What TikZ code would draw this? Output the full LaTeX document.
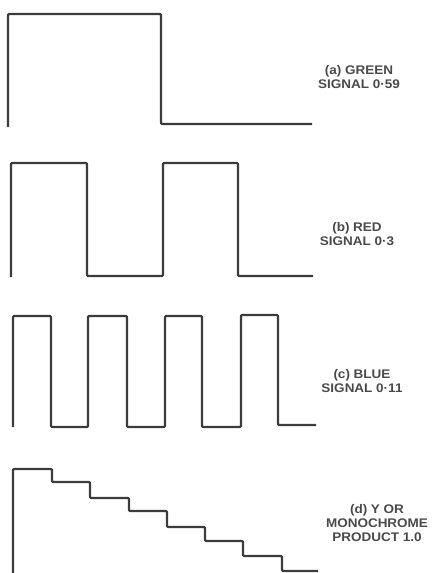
\documentclass[tikz,border=0pt]{standalone}
\usepackage{fontspec}
\setmainfont{Liberation Sans}
\definecolor{ink}{HTML}{3C3C3C}
\definecolor{txt}{HTML}{4A4A4A}
\begin{document}
\begin{tikzpicture}[x=1pt,y=-1pt,
  wave/.style={draw=ink,line width=2.2pt,rounded corners=1pt,line join=round},
  lbl/.style={text=txt,font=\bfseries\fontsize{12.5}{14}\selectfont,align=center,inner sep=0pt,xscale=1.08,transform shape}]
\useasboundingbox (0,0) rectangle (432,573);
% (a) green
\draw[wave] (8,127) -- (8,14) -- (161,14) -- (161,124) -- (312,124);
\node[lbl] (la) at (359,77) {(a) GREEN\\SIGNAL 0·59};
% (b) red
\draw[wave] (11,277) -- (11,163) -- (87,163) -- (87,276) -- (163,276) -- (163,163) -- (238,163) -- (238,276) -- (313,276);
\node[lbl] (lb) at (357,234) {(b) RED\\SIGNAL 0·3};
% (c) blue
\draw[wave] (13,427) -- (13,316) -- (51,316) -- (51,427) -- (88,427) -- (88,316) -- (127,316) -- (127,427) -- (165,427) -- (165,316) -- (202,316) -- (202,427) -- (241,427) -- (241,315) -- (278,315) -- (278,425) -- (316,425);
\node[lbl] (lc) at (362,381) {(c) BLUE\\SIGNAL 0·11};
% (d) Y
\draw[wave] (13,575) -- (13,469) -- (52,469) -- (52,482) -- (90,482) -- (90,498) -- (129,498) -- (129,511) -- (167,511) -- (167,527) -- (205,527) -- (205,541) -- (243,541) -- (243,556) -- (282,556) -- (282,571) -- (318,571);
\node[lbl] (ld) at (377,523) {(d) Y OR\\MONOCHROME\\PRODUCT 1.0};
\end{tikzpicture}
\end{document}
